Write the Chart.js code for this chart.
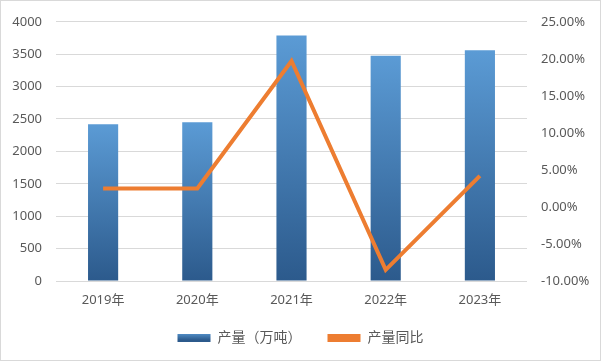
<!DOCTYPE html>
<html>
<head>
<meta charset="utf-8">
<script src="https://cdn.jsdelivr.net/npm/chart.js@4"></script>
<style>
html,body{margin:0;padding:0;background:#fff;}
#wrap{width:601px;height:361px;position:relative;}
</style>
</head>
<body>
<div id="wrap"><canvas id="c" width="601" height="361"></canvas></div>
<script>
const categories = ['2019年', '2020年', '2021年', '2022年', '2023年'];
const output = [2420, 2450, 3790, 3475, 3560];
const yoyPct = [2.5, 2.5, 19.7, -8.5, 4.2];
const leftTicks = [0, 500, 1000, 1500, 2000, 2500, 3000, 3500, 4000];
const rightTicks = [-10, -5, 0, 5, 10, 15, 20, 25];
const seriesNames = ['产量（万吨）', '产量同比'];

const FONT = "'Noto Sans', 'Noto Sans CJK SC', sans-serif";
const TOP_C = '#5b9bd5';
const BOT_C = '#2c5a8c';

function barGradient(context) {
  const chart = context.chart;
  const y = chart.scales && chart.scales.y;
  if (!chart.chartArea || !y || context.dataIndex === undefined) return TOP_C;
  const v = context.dataset.data[context.dataIndex];
  const top = y.getPixelForValue(v);
  const bot = y.getPixelForValue(0);
  const g = chart.ctx.createLinearGradient(0, top, 0, bot);
  g.addColorStop(0, TOP_C);
  g.addColorStop(1, BOT_C);
  return g;
}

const borderPlugin = {
  id: 'outerBorder',
  afterLayout(chart) {
    if (chart.legend) { chart.legend.top -= 6; chart.legend.bottom -= 6; }
  },
  afterDraw(chart) {
    const ctx = chart.ctx;
    ctx.save();
    ctx.strokeStyle = '#d9d9d9';
    ctx.lineWidth = 1;
    ctx.strokeRect(0.5, 0.5, chart.width - 1, chart.height - 1);
    ctx.restore();
  }
};

new Chart(document.getElementById('c'), {
  data: {
    labels: categories,
    datasets: [
      {
        type: 'line',
        label: seriesNames[1],
        data: yoyPct,
        yAxisID: 'y1',
        borderColor: '#ed7d31',
        backgroundColor: '#ed7d31',
        borderWidth: 4,
        pointRadius: 0,
        pointHoverRadius: 0,
        tension: 0,
        order: 0
      },
      {
        type: 'bar',
        label: seriesNames[0],
        data: output,
        yAxisID: 'y',
        backgroundColor: barGradient,
        borderWidth: 0,
        categoryPercentage: 1,
        barPercentage: 0.32,
        order: 1
      }
    ]
  },
  options: {
    responsive: false,
    animation: false,
    devicePixelRatio: 1,
    layout: { padding: { top: 16, left: 0, right: 0, bottom: 0 } },
    plugins: {
      tooltip: { enabled: false },
      legend: {
        position: 'bottom',
        labels: {
          font: { family: FONT, size: 14 },
          color: '#595959',
          boxWidth: 33,
          boxHeight: 8,
          padding: 26,
          generateLabels(chart) {
            return [
              {
                text: seriesNames[0],
                fillStyle: (function(){
                  const g = chart.ctx.createLinearGradient(0, 332, 0, 340);
                  g.addColorStop(0, TOP_C); g.addColorStop(1, BOT_C);
                  return g;
                })(),
                strokeStyle: 'rgba(0,0,0,0)',
                lineWidth: 0,
                datasetIndex: 1,
                fontColor: '#595959'
              },
              {
                text: seriesNames[1],
                fillStyle: '#ed7d31',
                strokeStyle: '#ed7d31',
                lineWidth: 0,
                datasetIndex: 0,
                fontColor: '#595959'
              }
            ];
          }
        }
      }
    },
    scales: {
      x: {
        grid: { display: false, drawTicks: false },
        border: { display: false },
        ticks: { font: { family: FONT, size: 13 }, color: '#595959', padding: 11,
          maxRotation: 0, minRotation: 0, autoSkip: false },
        afterFit(scale) { scale.height = 30; }
      },
      y: {
        position: 'left',
        min: 0, max: 4000,
        afterBuildTicks(scale) { scale.ticks = leftTicks.map(v => ({ value: v })); },
        grid: { color: '#d9d9d9', drawTicks: false },
        border: { display: false },
        ticks: { font: { family: FONT, size: 13 }, color: '#595959', padding: 14,
          callback: v => String(v) },
        afterFit(scale) { scale.width = 56; }
      },
      y1: {
        position: 'right',
        min: -10, max: 25,
        afterBuildTicks(scale) { scale.ticks = rightTicks.map(v => ({ value: v })); },
        grid: { display: false, drawTicks: false },
        border: { display: false },
        ticks: {
          font: { family: FONT, size: 13 }, color: '#595959', padding: 14,
          callback: v => v.toFixed(2) + '%'
        },
        afterFit(scale) { scale.width = 74; }
      }
    }
  },
  plugins: [borderPlugin]
});
</script>
</body>
</html>
